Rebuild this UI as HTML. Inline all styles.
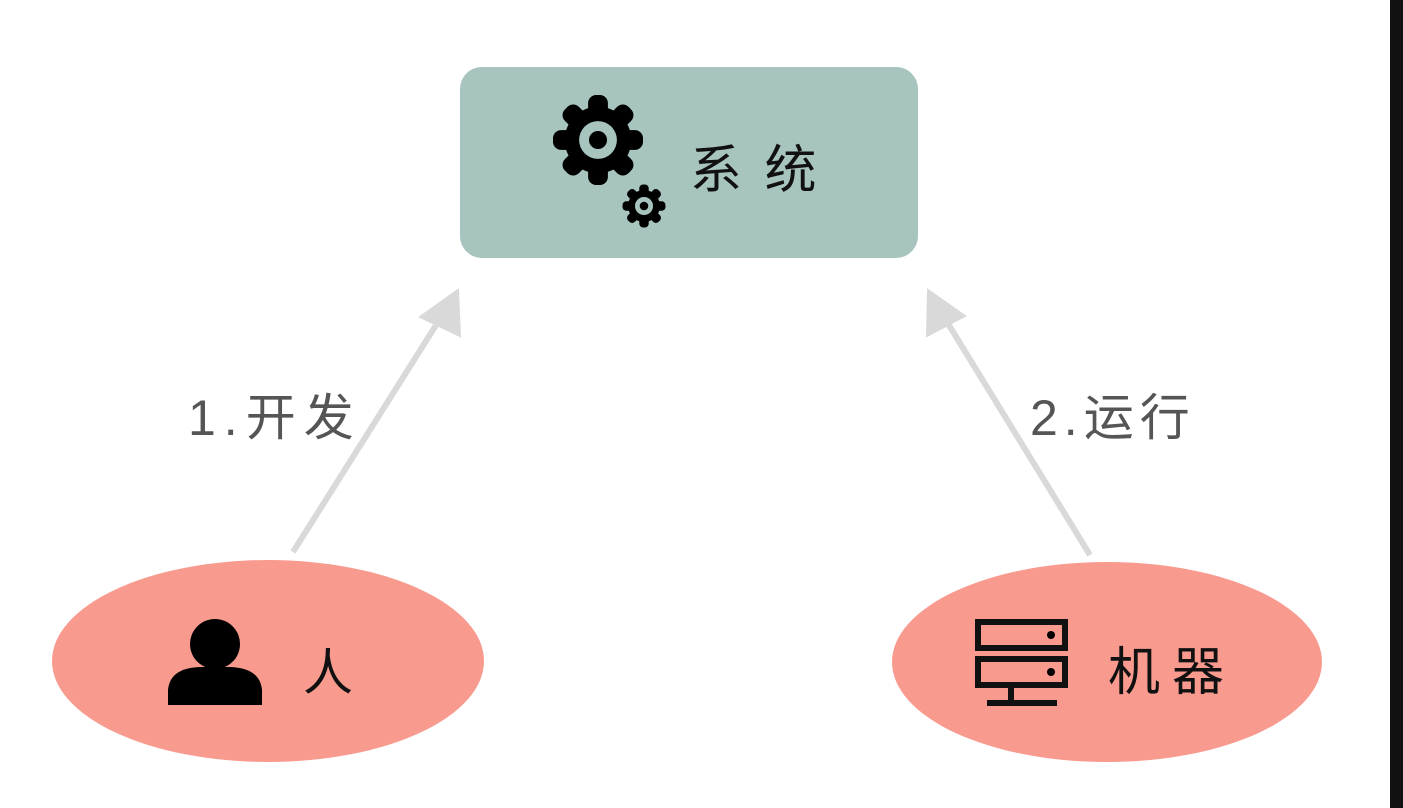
<!DOCTYPE html>
<html><head><meta charset="utf-8"><style>
html,body{margin:0;padding:0;background:#fff;}
body{width:1403px;height:808px;overflow:hidden;position:relative;}
svg{position:absolute;left:0;top:0;}
text{font-family:"Liberation Sans","Noto Sans CJK SC",sans-serif;}
</style></head><body>
<svg width="1403" height="808" viewBox="0 0 1403 808">
<defs>
<g id="gear">
<rect x="-11" y="-50" width="22" height="100" rx="9"/>
<rect x="-11" y="-50" width="22" height="100" rx="9" transform="rotate(45)"/>
<rect x="-11" y="-50" width="22" height="100" rx="9" transform="rotate(90)"/>
<rect x="-11" y="-50" width="22" height="100" rx="9" transform="rotate(135)"/>
<circle r="37"/>
<circle r="21" fill="#a8c4bf"/>
<circle r="10"/>
</g>
</defs>
<rect x="1390" y="0" width="13" height="808" fill="#111"/>
<rect x="460" y="67" width="458" height="191" rx="22" fill="#a8c4bf"/>
<use href="#gear" transform="translate(598,140) scale(0.9)"/>
<use href="#gear" transform="translate(644,206) scale(0.43)"/>
<text x="690" y="188" font-size="52" fill="#111" letter-spacing="4">系 统</text>
<ellipse cx="268" cy="661" rx="216" ry="101" fill="#f99a8f"/>
<ellipse cx="1107" cy="662" rx="215" ry="100" fill="#f99a8f"/>
<circle cx="215" cy="644" r="25"/>
<path d="M168 705 L168 690 Q170 668 200 667 L230 667 Q260 668 262 690 L262 705 Z"/>
<text x="303" y="690" font-size="50" fill="#111">人</text>
<g fill="none" stroke="#111" stroke-width="6">
<rect x="978" y="622" width="87" height="26"/>
<rect x="978" y="659" width="87" height="26"/>
<line x1="1011" y1="685" x2="1011" y2="703"/>
<line x1="987" y1="703" x2="1057" y2="703"/>
</g>
<circle cx="1051" cy="635" r="4"/><circle cx="1051" cy="672" r="4"/>
<text x="1108" y="690" font-size="52" fill="#111" letter-spacing="12">机器</text>
<g stroke="#d9d9d9" stroke-width="6" fill="#d9d9d9">
<line x1="293" y1="552" x2="438" y2="322"/>
<polygon points="458,290 420,317 460,336" stroke-width="2"/>
<line x1="1090" y1="555" x2="947" y2="322"/>
<polygon points="928,290 927,336 965,316" stroke-width="2"/>
</g>
<text x="188" y="435" font-size="50" fill="#555" letter-spacing="8">1.开发</text>
<text x="1030" y="435" font-size="50" fill="#555" letter-spacing="6">2.运行</text>
</svg>
</body></html>
